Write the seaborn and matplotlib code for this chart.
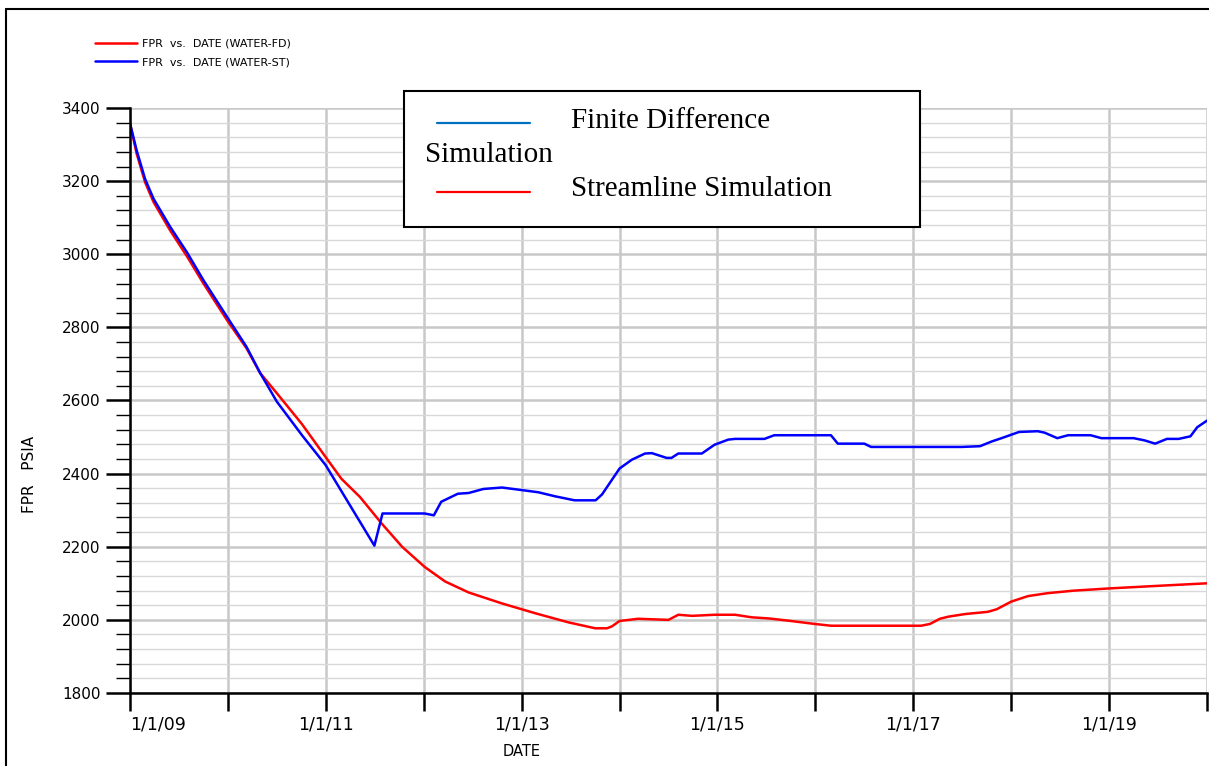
import pandas as pd
import matplotlib
matplotlib.use("Agg")
import matplotlib.pyplot as plt
from matplotlib.lines import Line2D
from matplotlib.patches import Rectangle
from matplotlib.ticker import MultipleLocator
import seaborn as sns

# values (decimal years, psia)
fd_years = [2009.00, 2009.068, 2009.154, 2009.24, 2009.41, 2009.58, 2009.75, 2009.99,
            2010.19, 2010.33, 2010.50, 2010.755, 2011.00, 2011.16, 2011.35, 2011.57,
            2011.78, 2012.01, 2012.22, 2012.46, 2012.80, 2013.14, 2013.48, 2013.75,
            2013.87, 2013.92, 2014.00, 2014.19, 2014.50, 2014.60, 2014.74, 2014.97,
            2015.18, 2015.35, 2015.52, 2015.72, 2015.99, 2016.16, 2017.08, 2017.17,
            2017.27, 2017.36, 2017.53, 2017.76, 2017.85, 2018.00, 2018.17, 2018.37,
            2018.64, 2019.00, 2019.49, 2020.00]
fd_psia = [3358, 3275, 3197, 3143, 3065, 2995, 2920, 2820,
           2743, 2675, 2620, 2536, 2445, 2386, 2336, 2264,
           2200, 2145, 2105, 2075, 2045, 2018, 1993, 1977,
           1977, 1982, 1997, 2003, 2000, 2014, 2011, 2014,
           2014, 2007, 2004, 1998, 1989, 1984, 1984, 1989,
           2003, 2009, 2016, 2022, 2029, 2050, 2065, 2073,
           2080, 2086, 2093, 2100]

st_years = [2009.00, 2009.068, 2009.154, 2009.24, 2009.41, 2009.58, 2009.75, 2009.99,
            2010.19, 2010.33, 2010.50, 2010.76, 2011.00, 2011.497, 2011.58, 2012.01,
            2012.105, 2012.18, 2012.35, 2012.46, 2012.61, 2012.80, 2013.00, 2013.17,
            2013.34, 2013.54, 2013.755, 2013.82, 2014.00, 2014.125, 2014.26, 2014.33,
            2014.48, 2014.53, 2014.60, 2014.84, 2014.97, 2015.11, 2015.18, 2015.48,
            2015.58, 2016.16, 2016.23, 2016.50, 2016.57, 2017.49, 2017.68, 2017.80,
            2017.90, 2018.08, 2018.27, 2018.34, 2018.47, 2018.58, 2018.81, 2018.92,
            2019.25, 2019.36, 2019.47, 2019.59, 2019.71, 2019.83, 2019.90, 2020.00]
st_psia = [3358, 3284, 3206, 3152, 3075, 3006, 2929, 2829,
           2747, 2675, 2597, 2504, 2423, 2203, 2291, 2291,
           2286, 2323, 2345, 2347, 2358, 2362, 2355, 2349,
           2338, 2327, 2327, 2343, 2414, 2438, 2455, 2456,
           2443, 2443, 2455, 2455, 2479, 2493, 2495, 2495,
           2505, 2505, 2482, 2482, 2473, 2473, 2475, 2488,
           2497, 2514, 2516, 2512, 2497, 2505, 2505, 2497,
           2497, 2491, 2482, 2495, 2495, 2502, 2527, 2545]

tick_years = list(range(2009, 2021))
tick_labels = ["1/1/09", "", "1/1/11", "", "1/1/13", "", "1/1/15", "",
               "1/1/17", "", "1/1/19", ""]
series_names = ["FPR  vs.  DATE (WATER-FD)", "FPR  vs.  DATE (WATER-ST)"]


def to_date(y):
    base = pd.Timestamp(int(y), 1, 1)
    return base + pd.Timedelta(days=(y - int(y)) * 365.25)


df = pd.concat([
    pd.DataFrame({"date": [to_date(v) for v in fd_years], "psia": fd_psia,
                  "series": series_names[0]}),
    pd.DataFrame({"date": [to_date(v) for v in st_years], "psia": st_psia,
                  "series": series_names[1]}),
])

sns.set_style("white")
plt.rcParams["font.family"] = ["DejaVu Sans"]
plt.rcParams["text.color"] = "black"
plt.rcParams["axes.labelcolor"] = "black"
plt.rcParams["xtick.color"] = "black"
plt.rcParams["ytick.color"] = "black"

W, H = 1209, 766


def fx(x):
    return x / W


def fy(y):
    return 1 - y / H


fig = plt.figure(figsize=(W / 100, H / 100), dpi=100)
ax = fig.add_axes([fx(130), fy(693), (1207 - 130) / W, (693 - 108) / H])

sns.lineplot(data=df, x="date", y="psia", hue="series", hue_order=series_names,
             palette=["#ff0000", "#0000ff"], sort=False, estimator=None,
             linewidth=1.8, legend=False, ax=ax)

ax.set_xlim(pd.Timestamp(2009, 1, 1), pd.Timestamp(2020, 1, 1))
ax.set_ylim(1800, 3400)

ax.set_xticks([pd.Timestamp(y, 1, 1) for y in tick_years])
ax.set_xticklabels(tick_labels, fontsize=12.5)
ax.get_xticklabels()[0].set_ha("left")
ax.yaxis.set_major_locator(MultipleLocator(200))
ax.yaxis.set_minor_locator(MultipleLocator(40))
for lab in ax.get_yticklabels():
    lab.set_fontsize(11)

ax.tick_params(axis="x", which="major", bottom=True, direction="out", length=13,
               width=1.8, color="black", pad=3)
ax.tick_params(axis="y", which="major", left=True, direction="out", length=17,
               width=1.8, color="black", pad=4)
ax.tick_params(axis="y", which="minor", left=True, direction="out", length=10,
               width=1.0, color="black")

ax.set_axisbelow(True)
ax.grid(which="major", axis="both", color="#c8c8c8", linewidth=1.8)
ax.grid(which="minor", axis="y", color="#d8d8d8", linewidth=1.0)

for side in ["top", "right"]:
    ax.spines[side].set_visible(False)
for side in ["left", "bottom"]:
    ax.spines[side].set_color("black")
    ax.spines[side].set_linewidth(1.8)

ax.set_xlabel("DATE", fontsize=10.5)
ax.xaxis.set_label_coords((522 - 130) / 1077, (693 - 744) / 585)
ax.set_ylabel("FPR   PSIA", fontsize=11)
ax.yaxis.set_label_coords((37 - 130) / 1077, (693 - 474) / 585)

# small program legend, top left
fig.legend(handles=ax.lines[:2], labels=series_names, loc="upper left",
           bbox_to_anchor=(fx(95), fy(39)), frameon=False, fontsize=8,
           handlelength=3.8, handletextpad=0.45, labelspacing=0.75,
           borderpad=0, borderaxespad=0)

# pasted legend box
fig.add_artist(Rectangle((fx(404), fy(227)), fx(920) - fx(404), fy(91) - fy(227),
                         transform=fig.transFigure, fill=True, facecolor="white",
                         edgecolor="black", linewidth=1.5, zorder=5))
fig.add_artist(Line2D([fx(437), fx(530)], [fy(123), fy(123)], color="#0070c0",
                      linewidth=1.6, zorder=6))
fig.add_artist(Line2D([fx(437), fx(530)], [fy(192), fy(192)], color="#ff0000",
                      linewidth=1.6, zorder=6))
serif = ["Liberation Serif", "DejaVu Serif"]
fig.text(fx(571), fy(121), "Finite Difference", fontsize=21, family=serif,
         va="center", ha="left", zorder=7)
fig.text(fx(425), fy(155), "Simulation", fontsize=21, family=serif,
         va="center", ha="left", zorder=7)
fig.text(fx(571), fy(189), "Streamline Simulation", fontsize=21, family=serif,
         va="center", ha="left", zorder=7)

# outer frame of the plot window
fig.add_artist(Line2D([fx(6), fx(6)], [0, fy(9)], color="black", linewidth=1.5))
fig.add_artist(Line2D([fx(6), 1], [fy(9), fy(9)], color="black", linewidth=1.5))

fig.savefig("out.png", dpi=100)
